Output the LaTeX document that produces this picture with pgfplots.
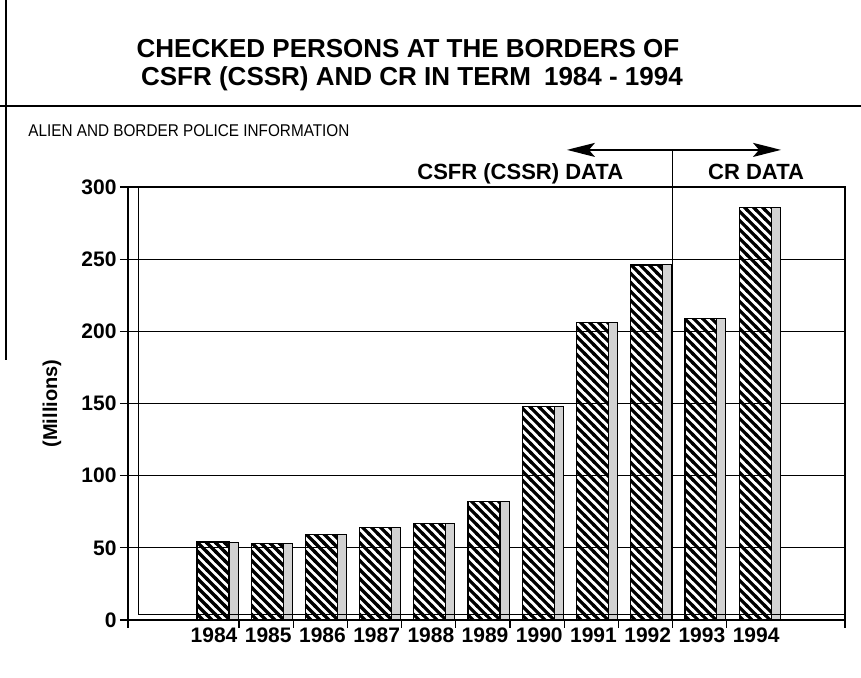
\documentclass[border=0pt]{standalone}
\usepackage{fontspec}
\setmainfont{Liberation Sans}
\usepackage{pgfplots}
\pgfplotsset{compat=1.18}
\usetikzlibrary{patterns,arrows.meta}

\pgfdeclarepatternformonly{thicknw}{\pgfqpoint{-1pt}{-1pt}}{\pgfqpoint{5.5pt}{5.5pt}}{\pgfqpoint{4.5pt}{4.5pt}}{%
  \pgfsetlinewidth{1.6pt}%
  \pgfpathmoveto{\pgfqpoint{-0.6pt}{5.1pt}}%
  \pgfpathlineto{\pgfqpoint{5.1pt}{-0.6pt}}%
  \pgfusepath{stroke}}

\pgfplotstableread{
k year value
0 1984 54
1 1985 53
2 1986 59
3 1987 64
4 1988 67
5 1989 82
6 1990 148
7 1991 206
8 1992 246
9 1993 209
10 1994 286
}\datatable

\begin{document}
\begin{tikzpicture}[x=1pt,y=1pt]
\useasboundingbox (0,0) rectangle (430.5,339);
\draw[line width=0.7pt] (3,339) -- (3,159);
\draw[line width=0.8pt] (0,286) -- (430.5,286);
\node[font=\fontsize{13}{15}\selectfont\bfseries, anchor=base, inner sep=0] at (204,310) {CHECKED PERSONS AT THE BORDERS OF};
\node[font=\fontsize{13}{15}\selectfont\bfseries, anchor=base, inner sep=0] at (206,296) {CSFR (CSSR) AND CR IN TERM\hspace{0.5em}1984 - 1994};
\node[font=\fontsize{8.5}{10}\selectfont, anchor=base west, inner sep=0, xscale=0.9] at (14,270.5) {ALIEN AND BORDER POLICE INFORMATION};
\begin{axis}[
  at={(64pt,29pt)}, anchor=south west,
  scale only axis, width=358.5pt, height=216.5pt,
  xmin=-1.587, xmax=11.64, ymin=0, ymax=300,
  axis lines=box, axis line style={line width=0.6pt},
  clip=false,
  ybar, 
  ytick={0,50,...,300}, ytick pos=left, ytick align=outside,
  ymajorgrids, major grid style={black, line width=0.5pt},
  xtick={-1.587,0.46,1.46,2.46,3.46,4.46,5.46,6.46,7.46,8.46,9.46,11.64},
  xticklabels={}, xtick pos=bottom, xtick align=outside,
  extra x ticks={0,1,2,3,4,5,6,7,8,9,10},
  extra x tick labels={1984,1985,1986,1987,1988,1989,1990,1991,1992,1993,1994},
  extra x tick style={major tick length=0pt},
  tick style={black, line width=0.6pt},
  major tick length=4pt,
  /pgf/number format/assume math mode=true,
  ticklabel style={font=\fontsize{10.5}{12}\selectfont\bfseries},
  yticklabel style={xshift=1.8pt},
  xticklabel style={yshift=-0.5pt},
  ylabel={(Millions)},
  ylabel style={at={(axis description cs:-0.106,0.5)}, anchor=center, font=\fontsize{10}{12}\selectfont\bfseries},
]
\addplot[draw=black, line width=0.6pt, pattern=thicknw, bar width=16pt, bar shift=-0.5pt] table[x=k, y=value] {\datatable};
\addplot[draw=black, line width=0.5pt, fill=gray!35, bar width=4.5pt, bar shift=9.75pt] table[x=k, y=value] {\datatable};
\draw[line width=0.5pt] (axis cs:-1.40,3.5) -- (axis cs:-1.40,300);
\draw[line width=0.5pt] (axis cs:-1.40,3.5) -- (axis cs:11.64,3.5);
\draw[line width=0.6pt] (axis cs:8.46,0) -- (axis cs:8.46,325.7);
\draw[line width=1pt, -{Stealth[length=14pt,width=7pt,inset=3pt]}] (axis cs:8.46,325.7) -- (axis cs:6.51,325.7);
\draw[line width=1pt, -{Stealth[length=14pt,width=7pt,inset=3pt]}] (axis cs:8.46,325.7) -- (axis cs:10.46,325.7);
\node[font=\fontsize{11}{13}\selectfont\bfseries, anchor=base, inner sep=0] at (axis cs:5.65,305) {CSFR (CSSR) DATA};
\node[font=\fontsize{11}{13}\selectfont\bfseries, anchor=base, inner sep=0] at (axis cs:10.0,305) {CR DATA};
\end{axis}
\end{tikzpicture}
\end{document}
